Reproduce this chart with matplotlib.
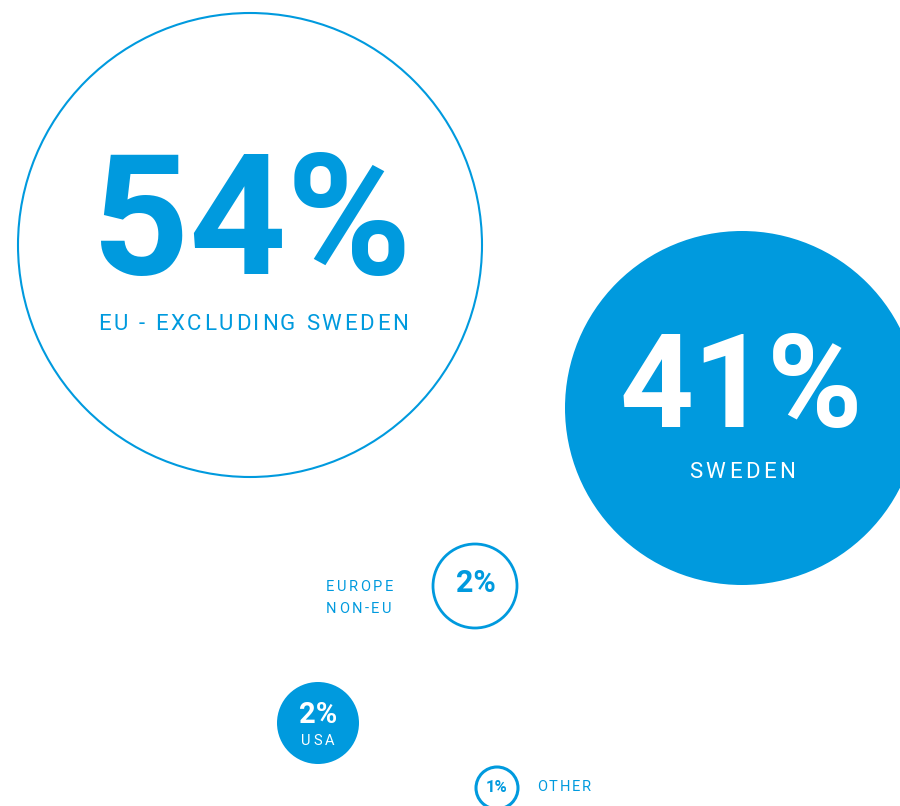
import matplotlib
matplotlib.use("Agg")
import matplotlib.pyplot as plt
from matplotlib.patches import Circle
from matplotlib.font_manager import FontProperties

# share of respondents by region
regions = ["EU - EXCLUDING SWEDEN", "SWEDEN", "EUROPE", "NON-EU", "USA", "OTHER"]
shares = [54, 41, 2, 2, 1]

# bubble layout in pixel space
centers = [(250, 245), (742, 408), (475, 586), (318, 723), (497, 788)]
radii = [232, 177, 42, 41, 21]
filled = [False, True, False, True, False]
strokes = [1.5, 0, 2.0, 0, 2.2]

BLUE = "#009ade"
W, H = 900, 806
FONT = "Roboto"

fig = plt.figure(figsize=(W / 100, H / 100), dpi=100)
ax = fig.add_axes([0, 0, 1, 1])
ax.set_xlim(0, W)
ax.set_ylim(H, 0)
ax.set_aspect("equal")
ax.axis("off")
renderer = fig.canvas.get_renderer()


def text_w(s, prop):
    return renderer.get_text_width_height_descent(s, prop, ismath=False)[0]


def spaced(x, y, s, size, color, track, ha="center"):
    """Letter-spaced caps label, one glyph per text object."""
    prop = FontProperties(family=FONT, size=size)
    ref = text_w("I", prop)
    offs = [0.0] + [text_w(s[:i] + "I", prop) - ref for i in range(1, len(s))]
    total = text_w(s, prop) + track * (len(s) - 1)
    x0 = x - total / 2 if ha == "center" else x
    for i, ch in enumerate(s):
        if ch == " ":
            continue
        ax.text(x0 + offs[i] + track * i, y, ch, ha="left", va="center",
                fontproperties=prop, color=color)


for (cx, cy), r, fill, lw in zip(centers, radii, filled, strokes):
    if fill:
        ax.add_patch(Circle((cx, cy), r, facecolor=BLUE, edgecolor="none"))
    else:
        ax.add_patch(Circle((cx, cy), r, facecolor="white", edgecolor=BLUE, lw=lw))

# 54% EU
cx, cy = centers[0]
ax.text(cx + 2, cy - 18, f"{shares[0]}%", ha="center", va="center", fontsize=122,
        fontweight="bold", color=BLUE, family=FONT)
spaced(cx + 3, cy + 80, regions[0], 16, BLUE, 2.6)

# 41% Sweden
cx, cy = centers[1]
ax.text(cx - 1, cy - 17, f"{shares[1]}%", ha="center", va="center", fontsize=93,
        fontweight="bold", color="white", family=FONT)
spaced(cx, cy + 64, regions[1], 16, "white", 3.4)

# 2% Europe non-EU
cx, cy = centers[2]
ax.text(cx + 1, cy - 3, f"{shares[2]}%", ha="center", va="center", fontsize=22,
        fontweight="bold", color=BLUE, family=FONT)
spaced(326, cy + 1, regions[2], 10.5, BLUE, 2.5, ha="left")
spaced(326, cy + 23, regions[3], 10.5, BLUE, 2.5, ha="left")

# 2% USA
cx, cy = centers[3]
ax.text(cx, cy - 8, f"{shares[3]}%", ha="center", va="center", fontsize=21,
        fontweight="bold", color="white", family=FONT)
spaced(cx, cy + 18, regions[4], 10.5, "white", 3.0)

# 1% other
cx, cy = centers[4]
ax.text(cx, cy, f"{shares[4]}%", ha="center", va="center", fontsize=12,
        fontweight="bold", color=BLUE, family=FONT)
spaced(537, cy - 1, regions[5], 10.5, BLUE, 1.9, ha="left")

fig.savefig("out.png", dpi=100, facecolor="white")
